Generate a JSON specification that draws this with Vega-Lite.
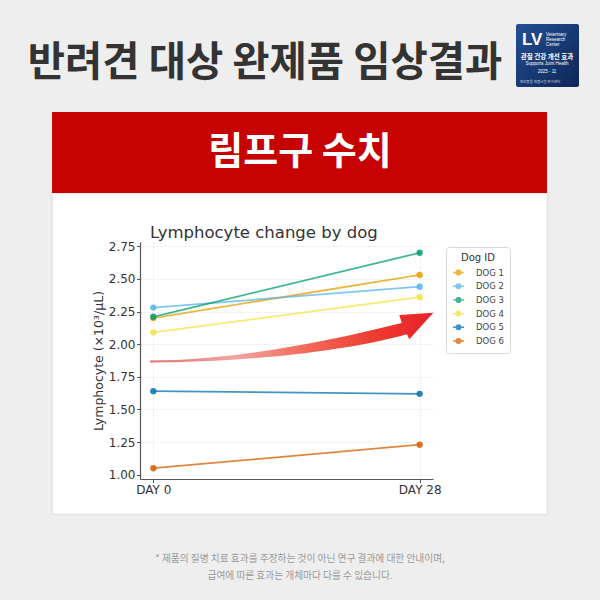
{
  "$schema": "https://vega.github.io/schema/vega-lite/v6.json",
  "autosize": "none",
  "width": 293,
  "height": 237,
  "padding": {"left": 140, "top": 242, "right": 167, "bottom": 121},
  "background": "white",
  "config": {
    "view": {"stroke": null},
    "axis": {
      "domainColor": "#555555",
      "domainWidth": 1.2,
      "tickColor": "#555555",
      "tickSize": 3.5,
      "tickWidth": 1,
      "labelFont": "DejaVu Sans",
      "labelFontSize": 12,
      "labelColor": "#333333",
      "labelOverlap": false,
      "titleFont": "DejaVu Sans",
      "titleFontSize": 12.5,
      "titleFontWeight": "normal",
      "titleColor": "#333333",
      "gridColor": "#e3e3e3",
      "gridDash": [2, 2],
      "gridWidth": 0.8
    }
  },
  "layer": [
    {
      "data": {"values": [{}]},
      "mark": {"type": "rect", "fill": "white", "fillOpacity": 0, "stroke": "#eeeeee", "strokeWidth": 300},
      "encoding": {"x": {"value": -238}, "x2": {"value": 557}, "y": {"value": -199}, "y2": {"value": 422}}
    },
    {
      "data": {"values": [{}]},
      "mark": {"type": "rect", "fill": "white", "fillOpacity": 0, "stroke": "#e2e2e2", "strokeWidth": 1.5},
      "encoding": {"x": {"value": -88}, "x2": {"value": 407.5}, "y": {"value": -49}, "y2": {"value": 272.5}}
    },
    {
      "data": {"values": [{}]},
      "mark": {"type": "rect", "fill": "#c60202"},
      "encoding": {"x": {"value": -88}, "x2": {"value": 407}, "y": {"value": -130}, "y2": {"value": -49}}
    },
    {
      "data": {"values": [{}]},
      "mark": {"type": "rect", "cornerRadius": 2, "fill": {"gradient": "linear", "x1": 0, "y1": 0, "x2": 1, "y2": 1, "stops": [{"offset": 0, "color": "#234f93"}, {"offset": 1, "color": "#0e2656"}]}},
      "encoding": {"x": {"value": 376}, "x2": {"value": 439}, "y": {"value": -218}, "y2": {"value": -155}}
    },
    {
      "data": {"values": [{}]},
      "mark": {"type": "text", "text": "LV", "font": "Liberation Sans", "fontSize": 17, "fontWeight": "bold", "color": "white", "align": "left", "baseline": "middle"},
      "encoding": {"x": {"value": 382}, "y": {"value": -202}}
    },
    {
      "data": {"values": [{}]},
      "mark": {"type": "text", "text": ["Veterinary", "Research", "Center"], "lineHeight": 5, "font": "Liberation Sans", "fontSize": 4.5, "color": "white", "align": "left", "baseline": "middle"},
      "encoding": {"x": {"value": 406}, "y": {"value": -207}}
    },
    {
      "data": {"values": [{}]},
      "mark": {"type": "text", "text": "관절 건강 개선 효과", "font": "Noto Sans CJK KR", "fontSize": 6.5, "fontWeight": "bold", "color": "white", "align": "center", "baseline": "middle"},
      "encoding": {"x": {"value": 407}, "y": {"value": -185}}
    },
    {
      "data": {"values": [{}]},
      "mark": {"type": "text", "text": "Supports Joint Health", "font": "Liberation Sans", "fontSize": 4.5, "color": "white", "align": "center", "baseline": "middle"},
      "encoding": {"x": {"value": 407}, "y": {"value": -178}}
    },
    {
      "data": {"values": [{}]},
      "mark": {"type": "text", "text": "2025 - 11", "font": "Liberation Sans", "fontSize": 4.5, "color": "white", "align": "center", "baseline": "middle"},
      "encoding": {"x": {"value": 407}, "y": {"value": -170}}
    },
    {
      "data": {"values": [{}]},
      "mark": {"type": "text", "text": "반려동물 제품시험 연구센터", "font": "Noto Sans CJK KR", "fontSize": 3.5, "color": "#d0d8e8", "align": "left", "baseline": "middle"},
      "encoding": {"x": {"value": 380}, "y": {"value": -160}}
    },
    {
      "data": {"values": [{}]},
      "mark": {"type": "text", "text": "반려견 대상 완제품 임상결과", "font": "Noto Sans CJK KR", "fontSize": 40.5, "fontWeight": "bold", "color": "#333333", "align": "center", "baseline": "middle"},
      "encoding": {"x": {"value": 125}, "y": {"value": -178}}
    },
    {
      "data": {"values": [{}]},
      "mark": {"type": "text", "text": "림프구 수치", "font": "Noto Sans CJK KR", "fontSize": 38, "fontWeight": "bold", "color": "white", "align": "center", "baseline": "middle"},
      "encoding": {"x": {"value": 160}, "y": {"value": -89.5}}
    },
    {
      "data": {"values": [{}]},
      "mark": {"type": "text", "text": "Lymphocyte change by dog", "font": "DejaVu Sans", "fontSize": 16.5, "color": "#333333", "align": "left", "baseline": "alphabetic"},
      "encoding": {"x": {"value": 10}, "y": {"value": -4}}
    },
    {
      "data": {"values": [{}]},
      "mark": {"type": "text", "text": "* 제품의 질병 치료 효과를 주장하는 것이 아닌 연구 결과에 대한 안내이며,", "font": "Noto Sans CJK KR", "fontSize": 9.7, "color": "#9a9a9a", "align": "center", "baseline": "middle"},
      "encoding": {"x": {"value": 160}, "y": {"value": 316.5}}
    },
    {
      "data": {"values": [{}]},
      "mark": {"type": "text", "text": "급여에 따른 효과는 개체마다 다를 수 있습니다.", "font": "Noto Sans CJK KR", "fontSize": 9.7, "color": "#9a9a9a", "align": "center", "baseline": "middle"},
      "encoding": {"x": {"value": 160}, "y": {"value": 333.5}}
    },
    {
      "data": {"values": [{}]},
      "mark": {
        "type": "point",
        "shape": "M-1.0118,0.1636C-0.4404,0.1636,0.2146,0.0386,0.7861,-0.1043L0.7689,-0.1614L1.0118,-0.1779L0.8404,0.0121L0.8236,-0.0236C0.3096,0.1171,-0.4404,0.1779,-1.0118,0.1779Z",
        "size": 78400,
        "filled": true,
        "strokeWidth": 0,
        "opacity": 1,
        "fill": {"gradient": "linear", "x1": 0, "y1": 0, "x2": 1, "y2": 0, "stops": [{"offset": 0, "color": "#e07070"}, {"offset": 0.3, "color": "#f4a4a0"}, {"offset": 0.55, "color": "#f26a5a"}, {"offset": 0.8, "color": "#ee3a30"}, {"offset": 1, "color": "#e81f2a"}]}
      },
      "encoding": {
        "x": {"value": 151.65},
        "y": {"value": 95.6}
      }
    },
    {
      "data": {
        "values": [
          {"dog": "DOG 1", "day": 0, "value": 2.20},
          {"dog": "DOG 1", "day": 28, "value": 2.53},
          {"dog": "DOG 2", "day": 0, "value": 2.28},
          {"dog": "DOG 2", "day": 28, "value": 2.44},
          {"dog": "DOG 3", "day": 0, "value": 2.21},
          {"dog": "DOG 3", "day": 28, "value": 2.70},
          {"dog": "DOG 4", "day": 0, "value": 2.09},
          {"dog": "DOG 4", "day": 28, "value": 2.36},
          {"dog": "DOG 5", "day": 0, "value": 1.64},
          {"dog": "DOG 5", "day": 28, "value": 1.62},
          {"dog": "DOG 6", "day": 0, "value": 1.05},
          {"dog": "DOG 6", "day": 28, "value": 1.23}
        ]
      },
      "encoding": {
        "x": {
          "field": "day",
          "type": "quantitative",
          "scale": {"domain": [-1.4, 29.4], "nice": false, "zero": false},
          "axis": {"values": [0, 28], "labelExpr": "'DAY ' + datum.value", "title": null, "labelPadding": 1.5, "labelFlush": false, "labelOverlap": false, "grid": true}
        },
        "y": {
          "field": "value",
          "type": "quantitative",
          "scale": {"domain": [0.9675, 2.7825], "nice": false, "zero": false},
          "axis": {"values": [1, 1.25, 1.5, 1.75, 2, 2.25, 2.5, 2.75], "format": ".2f", "title": "Lymphocyte (×10³/μL)", "titlePadding": 3, "labelPadding": 1.5, "labelOverlap": false, "labelFlush": false, "labelBound": false, "grid": true}
        },
        "color": {
          "field": "dog",
          "type": "nominal",
          "scale": {"domain": ["DOG 1", "DOG 2", "DOG 3", "DOG 4", "DOG 5", "DOG 6"], "range": ["#E69F00", "#56B4E9", "#009E73", "#F0E442", "#0072B2", "#D55E00"]},
          "legend": {
            "title": "Dog ID",
            "orient": "none",
            "legendX": 306,
            "legendY": 5,
            "direction": "vertical",
            "strokeColor": "#d8d8d8",
            "fillColor": "white",
            "padding": 6,
            "cornerRadius": 3,
            "titleFont": "DejaVu Sans",
            "titleFontSize": 10,
            "titleFontWeight": "normal",
            "titleColor": "#333333",
            "titleAnchor": "middle",
            "titlePadding": 3,
            "labelFont": "DejaVu Sans",
            "labelFontSize": 8.5,
            "labelColor": "#444444",
            "labelOffset": 11,
            "symbolType": "M-1,0H1M0.42,0A0.42,0.42 0 1,1 -0.42,0A0.42,0.42 0 1,1 0.42,0Z",
            "symbolSize": 121,
            "symbolStrokeWidth": 1.4,
            "rowPadding": 1.7,
            "encode": {
              "symbols": {
                "update": {
                  "fill": {"scale": "color", "field": "value"},
                  "stroke": {"scale": "color", "field": "value"},
                  "opacity": {"value": 0.8}
                }
              }
            }
          }
        }
      },
      "layer": [
        {"mark": {"type": "line", "strokeWidth": 1.8, "opacity": 0.75}},
        {"mark": {"type": "circle", "size": 40, "opacity": 0.85}}
      ]
    }
  ]
}
